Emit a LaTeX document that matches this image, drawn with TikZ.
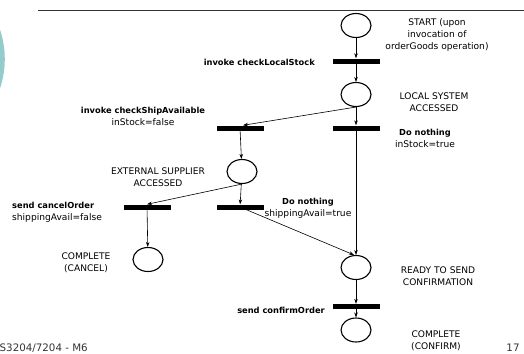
\documentclass[tikz,border=0pt]{standalone}
\usepackage{fontspec}
\setmainfont{DejaVu Sans}
\usetikzlibrary{shapes.geometric,arrows.meta}
\definecolor{deco}{RGB}{148,204,204}
\begin{document}
\begin{tikzpicture}[x=1pt,y=-1pt,
  place/.style={draw,ellipse,line width=1.1pt,minimum width=30pt,minimum height=24pt,inner sep=0pt},
  bar/.style={fill=black,rectangle,minimum width=47pt,minimum height=5pt,inner sep=0pt},
  arc/.style={line width=0.6pt,-{Stealth[length=5pt,width=3.5pt]}},
  lbl/.style={font=\fontsize{9.1}{11.8}\selectfont,inner sep=0pt,align=center},
  blbl/.style={font=\fontsize{8.3}{11.8}\selectfont\bfseries,inner sep=0pt},
  foot/.style={font=\fontsize{10.3}{11}\selectfont,text=black!80,inner sep=0pt}]
\useasboundingbox (0,0) rectangle (524,353);
\fill[deco] (-87,59) circle (91.8);
\draw[line width=1pt,black!80] (38,11) -- (524,11);
% places
\node[place] (start) at (356,25.5) {};
\node[place] (local) at (356,94.5) {};
\node[place] (ext) at (242,171.5) {};
\node[place] (cancel) at (148,259.5) {};
\node[place] (ready) at (356,267.5) {};
\node[place] (confirm) at (356,330) {};
% transitions
\node[bar] (t1) at (356,61) {};
\node[bar] (lbar) at (240,128) {};
\node[bar] (rbar) at (356,128) {};
\node[bar] (cbar) at (147,207) {};
\node[bar] (dbar) at (240,207) {};
\node[bar] (sbar) at (356,306.5) {};
% arcs
\draw[arc] (start) -- (t1);
\draw[arc] (t1) -- (local);
\draw[arc] (local.south) -- ([xshift=3pt]lbar.north);
\draw[arc] (local) -- (rbar);
\draw[arc] (rbar) -- (ready.north);
\draw[arc] (lbar) -- (ext);
\draw[arc] (ext.south) -- (cbar.north);
\draw[arc] (ext) -- (dbar);
\draw[arc] (dbar.center) -- ([xshift=-2pt]ready.north);
\draw[arc] (cbar) -- (cancel);
\draw[arc] (ready) -- (sbar);
\draw[arc] (sbar) -- (confirm);
% labels
\node[lbl] (lstart) at (437,35) {START (upon\\invocation of\\orderGoods operation)};
\node[blbl,anchor=east] (linv1) at (315,62) {invoke checkLocalStock};
\node[lbl] (llocal) at (434,102) {LOCAL SYSTEM\\ACCESSED};
\node[lbl] (lrbar) at (425,138.5) {\textbf{\fontsize{8.3}{10}\selectfont Do nothing}\\inStock=true};
\node[lbl] (llbar) at (143,116.5) {\textbf{\fontsize{8.3}{10}\selectfont invoke checkShipAvailable}\\inStock=false};
\node[lbl] (lext) at (158,177.5) {EXTERNAL SUPPLIER\\ACCESSED};
\node[lbl,align=left,anchor=west] (lcbar) at (12,212.5) {\textbf{\fontsize{8.3}{10}\selectfont send cancelOrder}\\shippingAvail=false};
\node[lbl] (ldbar) at (308,208) {\textbf{\fontsize{8.3}{10}\selectfont Do nothing}\\shippingAvail=true};
\node[lbl] (lcancel) at (86,263) {COMPLETE\\(CANCEL)};
\node[lbl] (lready) at (438,276) {READY TO SEND\\CONFIRMATION};
\node[blbl,anchor=east] (lsbar) at (325,310) {send confirmOrder};
\node[lbl] (lconfirm) at (436,340.5) {COMPLETE\\(CONFIRM)};
\node[foot,anchor=east] (footer) at (88,348) {CS3204/7204 - M6};
\node[foot] (page) at (513,348) {17};
\end{tikzpicture}
\end{document}
